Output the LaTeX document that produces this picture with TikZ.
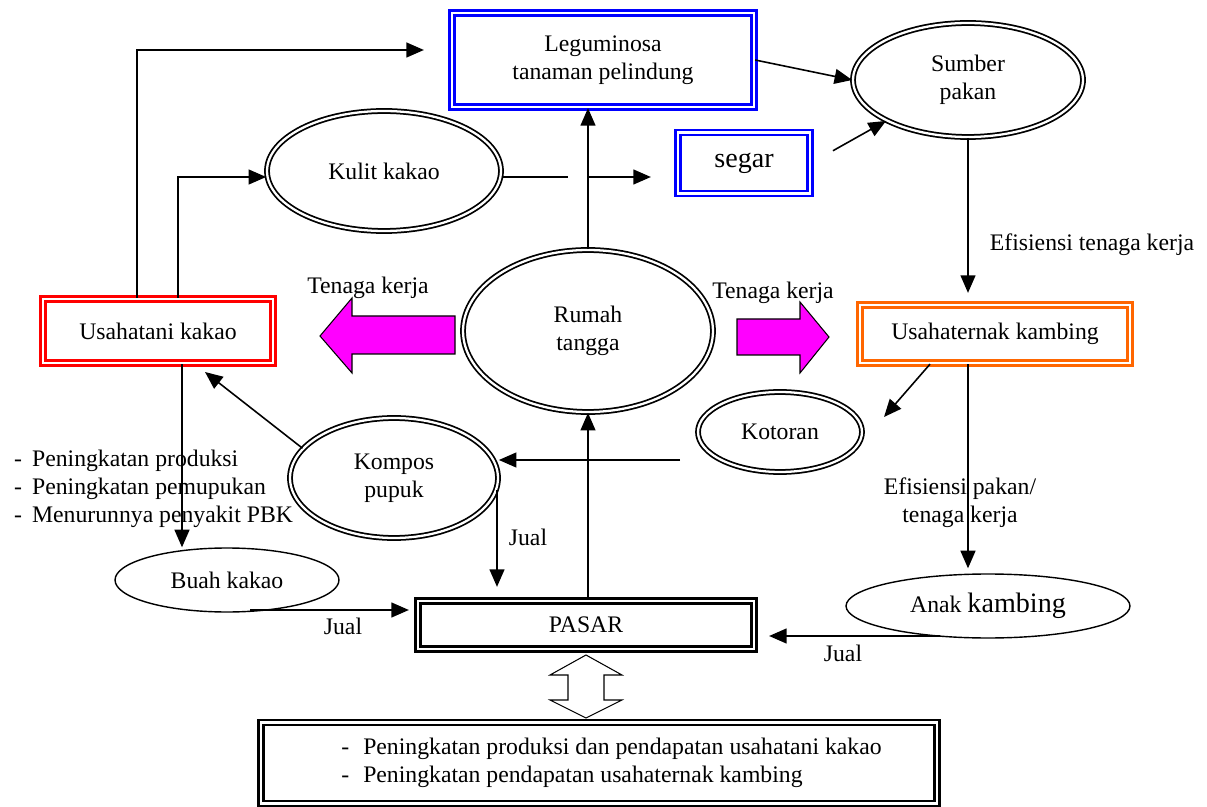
\documentclass[tikz,border=0pt]{standalone}
\usepackage{fontspec}
\setmainfont{Liberation Serif}
\usepackage{tikz}
\usetikzlibrary{arrows.meta, positioning, shapes, calc}

\definecolor{legblue}{RGB}{0,0,255}
\definecolor{kakaored}{RGB}{255,0,0}
\definecolor{kambingorange}{RGB}{255,102,0}
\definecolor{tkmagenta}{RGB}{255,0,255}

\tikzset{
	txt/.style={font=\fontsize{13.5}{16}\selectfont, align=center},
	dbox/.style={txt, rectangle, draw, double, double distance=1.5pt, line width=1.3pt, inner sep=0pt},
	dell/.style={txt, ellipse, draw, double, double distance=1.3pt, line width=1pt, inner sep=0pt},
	sell/.style={txt, ellipse, draw, line width=0.8pt, inner sep=0pt},
	conn/.style={line width=0.9pt, -{Triangle[length=10pt,width=8.5pt]}},
	bigarrow/.style={line width=0.6pt},
}

\begin{document}
\begin{tikzpicture}[x=0.02cm, y=-0.02cm]
	\useasboundingbox (0,0) rectangle (1207,807);
	
	% boxes and ellipses
	\node [dbox, draw=legblue, minimum width=6.04cm, minimum height=1.88cm] (leg) at (603,60) {Leguminosa\\tanaman pelindung};
	\node [dell, minimum width=4.6cm, minimum height=2.28cm] (sumber) at (968,80) {Sumber\\pakan};
	\node [dbox, draw=legblue, minimum width=2.64cm, minimum height=1.22cm, font=\fontsize{16}{19}\selectfont] (segar) at (744,163) {segar};
	\node [dell, minimum width=4.68cm, minimum height=2.4cm] (kulit) at (384,171) {Kulit kakao};
	\node [dell, minimum width=5cm, minimum height=3.24cm] (rumah) at (588,331) {Rumah\\tangga};
	\node [dbox, draw=kakaored, minimum width=4.6cm, minimum height=1.28cm] (usahatani) at (158,331) {Usahatani kakao};
	\node [dbox, draw=kambingorange, minimum width=5.4cm, minimum height=1.16cm] (usahaternak) at (995,334) {Usahaternak kambing};
	\node [dell, minimum width=3.28cm, minimum height=1.6cm] (kotoran) at (780,432) {Kotoran};
	\node [dell, minimum width=4.16cm, minimum height=2.4cm] (kompos) at (394,478) {Kompos\\pupuk};
	\node [sell, minimum width=4.48cm, minimum height=1.28cm] (buah) at (227,580) {Buah kakao};
	\node [dbox, minimum width=6.72cm, minimum height=0.96cm] (pasar) at (586,625) {PASAR};
	\node [sell, minimum width=5.68cm, minimum height=1.28cm] (anak) at (988,606) {Anak {\fontsize{16}{19}\selectfont kambing}};
	\node [dbox, minimum width=13.52cm, minimum height=1.62cm, align=left] (hasil) at (599,763) {\hspace*{0.5cm}-\hspace{0.28cm}Peningkatan produksi dan pendapatan usahatani kakao\\\hspace*{0.5cm}-\hspace{0.28cm}Peningkatan pendapatan usahaternak kambing};
	
	% tenaga kerja arrows
	\draw [bigarrow, fill=tkmagenta] (455,316) -- (352,316) -- (352,298) -- (320,336) -- (352,373) -- (352,354) -- (455,354) -- cycle;
	\draw [bigarrow, fill=tkmagenta] (737,319) -- (800,319) -- (800,302) -- (829,337) -- (800,373) -- (800,355) -- (737,355) -- cycle;
	\node [txt] (tkleft) at (368,288) {Tenaga kerja};
	\node [txt] (tkright) at (773,293) {Tenaga kerja};
	
	% connectors
	\coordinate (xa) at (137,50);
	\coordinate (xb) at (178,0);
	\coordinate (xs) at (588,177);
	\coordinate (xr) at (968,0);
	\coordinate (kt0) at (930,0);
	\coordinate (kt1) at (884,417);
	\coordinate (j3) at (940,636);
	\coordinate (k2) at (680,460);
	\coordinate (kp) at (205,372);
	\coordinate (xk) at (497,490);
	\coordinate (xc) at (182,0);
	\coordinate (j1) at (250,610);
	
	\draw [conn, shorten >=0.54cm] (usahatani.north -| xa) |- (leg.west |- xa);
	\draw [conn] (usahatani.north -| xb) |- (kulit.west |- xs);
	\draw [line width=0.9pt] (kulit.east |- xs) -- ++(66,0);
	\draw [conn, shorten >=0.52cm] (xs) -- (xs -| segar.west);
	\draw [conn] (rumah.north) -- (rumah.north |- leg.south);
	\draw [conn] (leg.east) -- (sumber.west);
	\draw [conn, shorten <=0.5cm] (segar.east) -- (sumber.south west);
	\draw [conn, shorten >=0.22cm] (sumber.south) -- (sumber.south |- usahaternak.north);
	\node [txt] (eftk) at (1092,245) {Efisiensi tenaga kerja};
	\draw [conn] (usahaternak.south -| kt0) -- (kt1);
	\draw [conn, shorten >=0.1cm] (usahaternak.south -| xr) -- (anak.north -| xr);
	\node [txt] (efpk) at (960,503) {Efisiensi pakan/\\tenaga kerja};
	\draw [conn, shorten >=0.28cm] (j3) -- (j3 -| pasar.east);
	\node [txt] (jual3) at (843,653) {Jual};
	\draw [conn] (k2) -- (k2 -| kompos.east);
	\draw [conn] (kompos.162) -- (kp);
	\draw [conn, shorten >=0.26cm] (xk) -- (xk |- pasar.north);
	\node [txt] (jual2) at (528,537) {Jual};
	\draw [conn] (pasar.north -| rumah.south) -- (rumah.south);
	\draw [conn] (usahatani.south -| xc) -- (buah.north -| xc);
	\draw [conn, shorten >=0.16cm] (j1) -- (j1 -| pasar.west);
	\node [txt] (jual1) at (343,626) {Jual};
	
	\node [txt, align=left, anchor=west] (hasilkakao) at (8,489) {-\hspace{0.2cm}Peningkatan produksi\\-\hspace{0.2cm}Peningkatan pemupukan\\-\hspace{0.2cm}Menurunnya penyakit PBK};
	
	% pasar <-> hasil
	\draw [bigarrow, fill=white] (586,655) -- (622,675) -- (604,675) -- (604,700) -- (622,700) -- (586,718) -- (550,700) -- (568,700) -- (568,675) -- (550,675) -- cycle;
\end{tikzpicture}
\end{document}
